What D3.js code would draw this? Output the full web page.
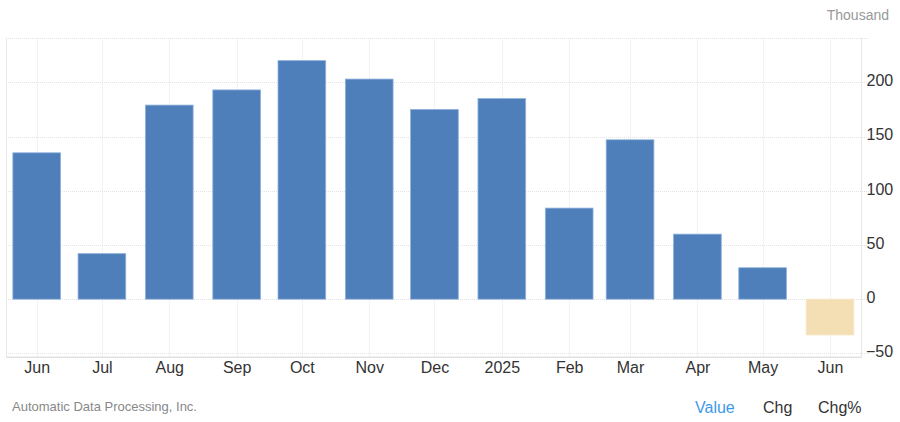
<!DOCTYPE html>
<html>
<head>
<meta charset="utf-8">
<script src="https://cdn.jsdelivr.net/npm/d3@7"></script>
<style>
  html, body { margin: 0; padding: 0; background: #fff; }
  svg { display: block; font-family: Arial, "Liberation Sans", sans-serif; }
</style>
</head>
<body>
<svg id="chart" width="900" height="422"></svg>
<script>
const months = ["2024-06","2024-07","2024-08","2024-09","2024-10","2024-11","2024-12","2025-01","2025-02","2025-03","2025-04","2025-05","2025-06"];
const tickLabels = ["Jun","Jul","Aug","Sep","Oct","Nov","Dec","2025","Feb","Mar","Apr","May","Jun"];
const values = [135, 42, 179, 193, 220, 203, 175, 185, 84, 147, 60, 29, -33];
const yTicks = [-50, 0, 50, 100, 150, 200];
const unitLabel = "Thousand";
const sourceLabel = "Automatic Data Processing, Inc.";
const tabs = ["Value", "Chg", "Chg%"];

const parse = d3.timeParse("%Y-%m");
const dates = months.map(parse);

const svg = d3.select("#chart");
const plot = { left: 6, right: 862, top: 38.3, bottom: 357.3 };

const x = d3.scaleTime()
  .domain([dates[0], dates[dates.length - 1]])
  .range([36.7, 830]);
const y = d3.scaleLinear()
  .domain([-53.6, 240.6])
  .range([plot.bottom, plot.top]);

const grid = svg.append("g");
// horizontal gridlines
grid.selectAll("line.h").data(yTicks).enter().append("line")
  .attr("x1", plot.left).attr("x2", plot.right + 8)
  .attr("y1", d => Math.round(y(d)) + 0.5).attr("y2", d => Math.round(y(d)) + 0.5)
  .attr("stroke", "#e3e3e3").attr("stroke-dasharray", "1,1");
// top border (dotted)
grid.append("line")
  .attr("x1", plot.left).attr("x2", plot.right + 8)
  .attr("y1", 38.5).attr("y2", 38.5)
  .attr("stroke", "#e3e3e3").attr("stroke-dasharray", "1,1");
// vertical gridlines
grid.selectAll("line.v").data(dates).enter().append("line")
  .attr("x1", d => Math.round(x(d)) + 0.5).attr("x2", d => Math.round(x(d)) + 0.5)
  .attr("y1", plot.top).attr("y2", plot.bottom)
  .attr("stroke", "#e8e8e8").attr("stroke-dasharray", "1,1");
// frame
grid.append("line").attr("x1", plot.left + 0.5).attr("x2", plot.left + 0.5)
  .attr("y1", plot.top).attr("y2", plot.bottom).attr("stroke", "#e6e6e6");
grid.append("line").attr("x1", plot.right - 0.5).attr("x2", plot.right - 0.5)
  .attr("y1", plot.top).attr("y2", plot.bottom).attr("stroke", "#e6e6e6");
grid.append("line").attr("x1", plot.left).attr("x2", plot.right)
  .attr("y1", plot.bottom).attr("y2", plot.bottom).attr("stroke", "#e2e2e2").attr("stroke-width", 1.5);

// bars
const barW = 47.7;
svg.append("g").selectAll("rect").data(values).enter().append("rect")
  .attr("x", (d, i) => x(dates[i]) - barW / 2)
  .attr("width", barW)
  .attr("y", d => Math.min(y(d), y(0)))
  .attr("height", d => Math.abs(y(d) - y(0)))
  .attr("fill", d => d < 0 ? "#f4deb4" : "#4e7fba")
  .attr("stroke", d => d < 0 ? "#f7e7c8" : "#8fb1dc")
  .attr("stroke-width", 0.8);

// x axis
const xAxis = d3.axisBottom(x)
  .tickValues(dates)
  .tickFormat((d, i) => tickLabels[i])
  .tickSize(0).tickPadding(0);
const gx = svg.append("g").attr("transform", "translate(0,360)").call(xAxis);
gx.select(".domain").remove();
gx.selectAll("text").attr("font-size", 16).attr("fill", "#333")
  .attr("font-family", "Arial, 'Liberation Sans', sans-serif")
  .attr("dy", "0.83em");

// y axis
const yAxis = d3.axisRight(y).tickValues(yTicks).tickSize(0).tickPadding(0)
  .tickFormat(d3.format("d"));
const gy = svg.append("g").attr("transform", "translate(866.5,0)").call(yAxis);
gy.select(".domain").remove();
gy.selectAll("text").attr("font-size", 16).attr("fill", "#333")
  .attr("font-family", "Arial, 'Liberation Sans', sans-serif")
  .attr("x", d => d < 0 ? -0.5 : 0).attr("dy", "0.21em");

// labels
svg.append("text").attr("x", 889).attr("y", 20).attr("text-anchor", "end")
  .attr("font-size", 14).attr("fill", "#999").text(unitLabel);
svg.append("text").attr("x", 12).attr("y", 411)
  .attr("font-size", 13).attr("fill", "#888").text(sourceLabel);

const tabX = [695, 763, 818];
svg.append("g").selectAll("text").data(tabs).enter().append("text")
  .attr("x", (d, i) => tabX[i]).attr("y", 413)
  .attr("font-size", 16)
  .attr("fill", (d, i) => i === 0 ? "#3d9ae8" : "#333")
  .text(d => d);
</script>
</body>
</html>
